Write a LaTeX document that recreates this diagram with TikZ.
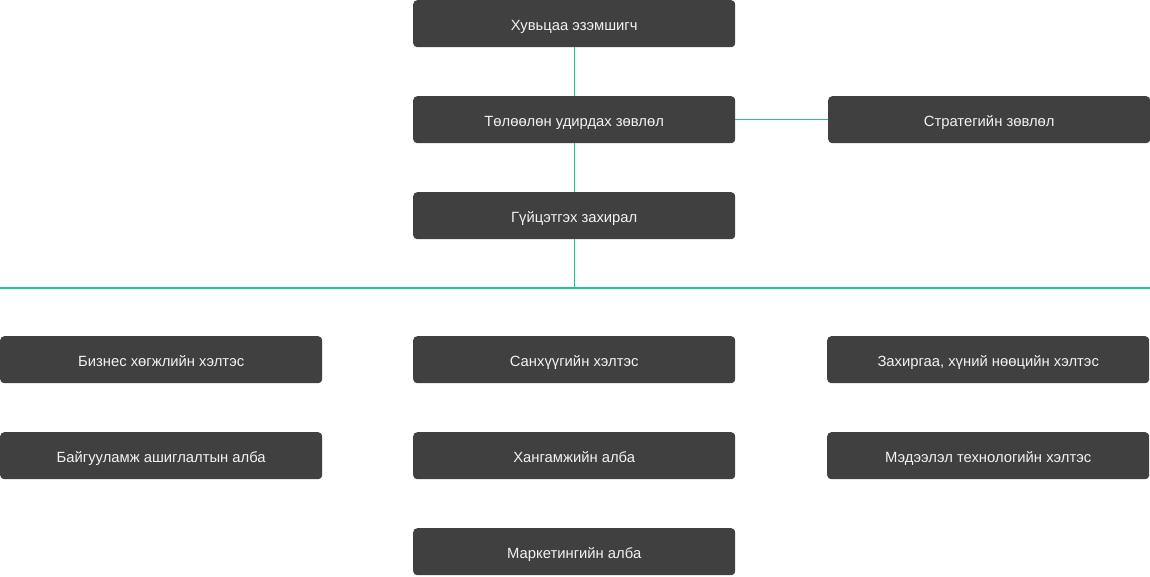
\documentclass[tikz,border=0pt]{standalone}
\usepackage{fontspec}
\setmainfont{Liberation Sans}
\definecolor{boxfill}{HTML}{404040}
\definecolor{boxtext}{HTML}{F2F2F2}
\definecolor{linkgreen}{HTML}{1CC78F}
\begin{document}
\begin{tikzpicture}[x=1pt,y=-1pt,
  orgbox/.style={fill=boxfill, rounded corners=4pt, minimum width=322pt, minimum height=47pt,
    inner sep=0pt, text height=13pt, text depth=0pt, text=boxtext,
    font=\fontsize{14.8}{17}\selectfont, anchor=north west},
  link/.style={draw=linkgreen, line width=1.2pt}]
\useasboundingbox (0,0) rectangle (1150,576);
\node[orgbox] (owner) at (413,0) {Хувьцаа эзэмшигч};
\node[orgbox] (board) at (413,96) {Төлөөлөн удирдах зөвлөл};
\node[orgbox] (strat) at (828,96) {Стратегийн зөвлөл};
\node[orgbox] (ceo) at (413,192) {Гүйцэтгэх захирал};
\node[orgbox] (bizdev) at (0,336) {Бизнес хөгжлийн хэлтэс};
\node[orgbox] (fin) at (413,336) {Санхүүгийн хэлтэс};
\node[orgbox] (hr) at (827,336) {Захиргаа, хүний нөөцийн хэлтэс};
\node[orgbox] (facil) at (0,432) {Байгууламж ашиглалтын алба};
\node[orgbox] (supply) at (413,432) {Хангамжийн алба};
\node[orgbox] (it) at (827,432) {Мэдээлэл технологийн хэлтэс};
\node[orgbox] (mkt) at (413,528) {Маркетингийн алба};
\coordinate (busL) at (0,288);
\coordinate (busR) at (1150,288);
\draw[link] (owner.south) -- (board.north);
\draw[link] (board.south) -- (ceo.north);
\draw[link] (board.east) -- (strat.west);
\draw[link] (ceo.south) -- (ceo.south |- busL);
\draw[link] (busL) -- (busR);
\end{tikzpicture}
\end{document}
